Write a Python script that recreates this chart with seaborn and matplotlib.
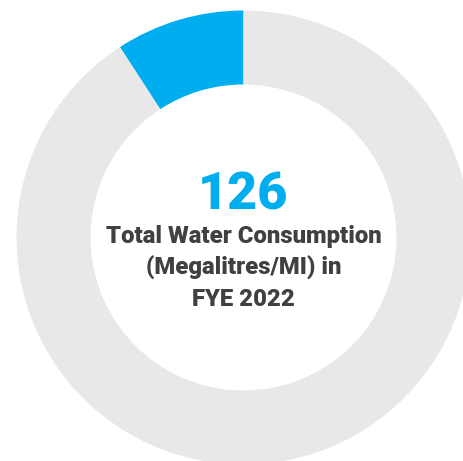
import matplotlib
matplotlib.use("Agg")
import matplotlib.pyplot as plt
import seaborn as sns

sns.set_theme(style="white")
plt.rcParams['font.family'] = ['Roboto', 'DejaVu Sans']

# Data
labels = ["Water consumption", "Remainder"]
values = [126, 1249]
colors = ["#00AEEF", "#E8E8E8"]
headline = "126"
caption_lines = ["Total Water Consumption", "(Megalitres/MI) in", "FYE 2022"]

W, H = 464, 461
fig = plt.figure(figsize=(W / 100, H / 100), dpi=100)
fig.patch.set_facecolor("white")

cx, cy, R = 243.5, 237.5, 227.0
ax = fig.add_axes([(cx - R) / W, (H - cy - R) / H, 2 * R / W, 2 * R / H])
ax.pie(values, colors=colors, startangle=90, counterclock=True, radius=1.0,
       wedgeprops=dict(width=0.326, edgecolor="none", linewidth=0))
ax.set_xlim(-1, 1)
ax.set_ylim(-1, 1)
ax.set_aspect("equal")
ax.axis("off")

fig.text(cx / W, (H - 209) / H, headline, ha="center", va="baseline",
         fontsize=37.5, fontweight=900, color="#00AEEF")
baselines = [243, 274.5, 306]
for line, b in zip(caption_lines, baselines):
    fig.text(cx / W, (H - b) / H, line, ha="center", va="baseline",
             fontsize=17.2, fontweight=900, color="#404040")

fig.savefig("out.png", dpi=100, facecolor="white")
